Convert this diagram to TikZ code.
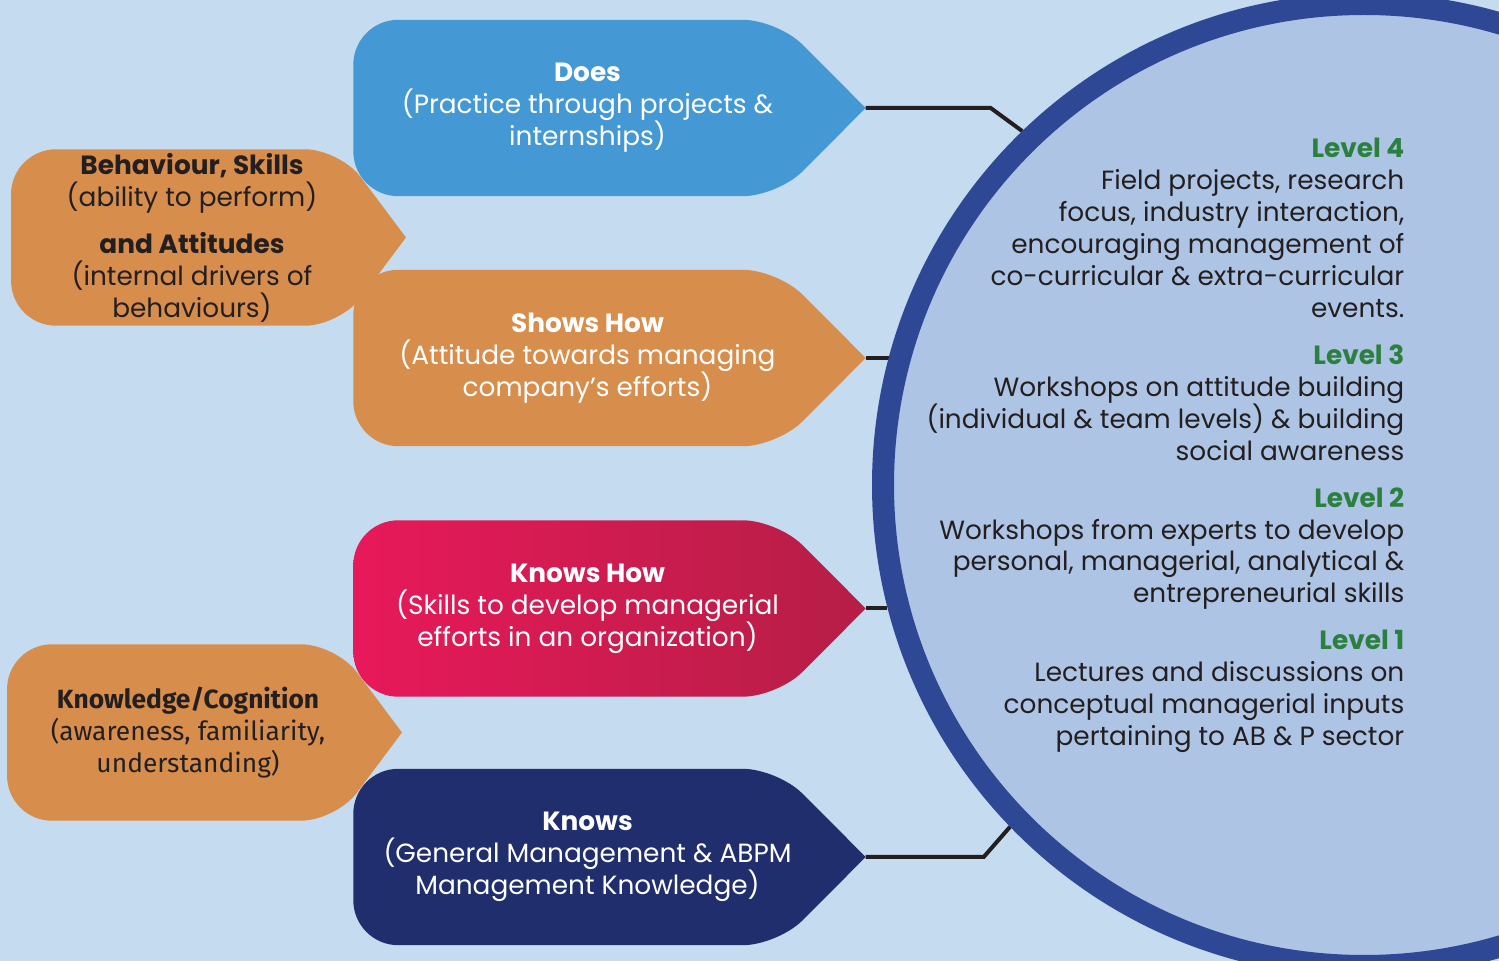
\documentclass[tikz,border=0pt]{standalone}
\usepackage{fontspec}
\setmainfont{Poppins}
\newfontfamily\dinfont{Fira Sans}
\usetikzlibrary{backgrounds, positioning}
\definecolor{cbg}{HTML}{C5DBEF}
\definecolor{cdisc}{HTML}{ADC4E4}
\definecolor{cring}{HTML}{2E4896}
\definecolor{cblue}{HTML}{4498D3}
\definecolor{corange}{HTML}{D78D4B}
\definecolor{cnavy}{HTML}{202E6E}
\definecolor{cpink}{HTML}{E8195A}
\definecolor{ccrimson}{HTML}{B51E46}
\definecolor{cgreen}{HTML}{2B8040}
\definecolor{cink}{HTML}{231F20}
\lineskiplimit=-5pt
\tikzset{
  every picture/.style={x=0.1mm, y=-0.1mm},
  tag/.style={minimum width=#1, minimum height=17.5mm, inner sep=0pt, align=center, text=white, font=\fontsize{7.5}{9.1}\selectfont},
  side/.style={tag=#1, text=cink},
  link/.style={draw=cink, line width=0.4mm},
  ring/.style={circle, draw=cring, fill=cdisc, line width=2.2mm, minimum size=96.2mm, inner sep=0pt},
  levels/.style={align=right, inner sep=0pt, text=cink, font=\fontsize{7.5}{9.1}\selectfont},
}
% arrow-shaped tag behind a node: #1 node, #2 fill, #3 half pointer
\newcommand{\tagshape}[3]{%
  \coordinate (#1-tip) at ([xshift=#3]#1.east);
  \begin{scope}[on background layer]
    \path[#2] (#1.west) [rounded corners=4.5mm] -- (#1.north west)
      [rounded corners=3.5mm] -- ([xshift=-#3]#1.north east)
      [sharp corners] -- (#1-tip)
      [rounded corners=3.5mm] -- ([xshift=-#3]#1.south east)
      [rounded corners=4.5mm] -- (#1.south west) -- cycle;
  \end{scope}
}
\newcommand{\lvl}[1]{\textcolor{cgreen}{\bfseries Level #1}}

\begin{document}
\lineskiplimit=-5pt
\begin{tikzpicture}
  \useasboundingbox (0,0) rectangle (1499,961);
  \clip (0,0) rectangle (1499,961);
  \begin{scope}[on background layer]
    \fill[cbg] (0,0) rectangle (1499,961);
  \end{scope}

  % left: competence areas
  \node[side=36.05mm] (behav) at (192,237.5) {\textbf{Behaviour, Skills}\\(ability to perform)\\[1.5mm]\textbf{and Attitudes}\\(internal drivers of\\behaviours)};
  \tagshape{behav}{fill=corange}{3.3mm}
  \node[side=36.05mm, font=\dinfont\fontsize{7.5}{9.1}\selectfont] (know) at (188,732.5) {\textbf{Knowledge/Cognition}\\(awareness, familiarity,\\understanding)};
  \tagshape{know}{fill=corange}{3.3mm}

  % middle: miller levels
  \node[tag=46.7mm] (does) at (587.5,108) {\textbf{Does}\\(Practice through projects \&\\internships)};
  \tagshape{does}{fill=cblue}{4.4mm}
  \node[tag=46.7mm] (shows) at (587.5,358) {\textbf{Shows How}\\(Attitude towards managing\\company’s efforts)};
  \tagshape{shows}{fill=corange}{4.4mm}
  \node[tag=46.7mm] (knowshow) at (587.5,608.5) {\textbf{Knows How}\\(Skills to develop managerial\\efforts in an organization)};
  \tagshape{knowshow}{left color=cpink, right color=ccrimson}{4.4mm}
  \node[tag=46.7mm] (knows) at (587.5,857) {\textbf{Knows}\\(General Management \& ABPM\\Management Knowledge)};
  \tagshape{knows}{fill=cnavy}{4.4mm}

  % right: disc with the four levels
  \node[ring] (ring) at (1364,485) {};
  \begin{scope}[on background layer]
    \draw[link] (does-tip) -- ++(12.5mm,0) -- (ring.134.6);
    \draw[link] (shows-tip) -- (shows-tip -| ring.165);
    \draw[link] (knowshow-tip) -- (knowshow-tip -| ring.194.5);
    \draw[link] (knows-tip) -- ++(11.8mm,0) -- (ring.224.5);
  \end{scope}
  \node[levels, anchor=north east] (lv) at (1405,137) {\lvl{4}\\Field projects, research\\focus, industry interaction,\\encouraging management of\\co-curricular \& extra-curricular\\events.\\[1.5mm]
    \lvl{3}\\Workshops on attitude building\\(individual \& team levels) \& building\\social awareness\\[1.5mm]
    \lvl{2}\\Workshops from experts to develop\\personal, managerial, analytical \&\\entrepreneurial skills\\[1.5mm]
    \lvl{1}\\Lectures and discussions on\\conceptual managerial inputs\\pertaining to AB \& P sector};
\end{tikzpicture}
\end{document}
